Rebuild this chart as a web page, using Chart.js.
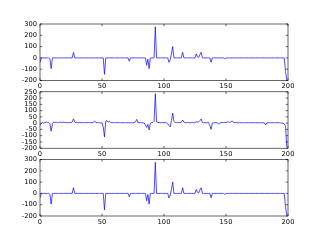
<!DOCTYPE html>
<html>
<head>
<meta charset="utf-8">
<script src="https://cdn.jsdelivr.net/npm/chart.js@4"></script>
<style>
  html, body { margin: 0; padding: 0; background: #fff; }
  #wrap { position: relative; width: 320px; height: 240px; }
  #wrap canvas { position: absolute; left: 0; top: 0; }
</style>
</head>
<body>
<div id="wrap">
  <canvas id="c1" width="320" height="240"></canvas>
  <canvas id="c2" width="320" height="240"></canvas>
  <canvas id="c3" width="320" height="240"></canvas>
</div>
<script>
// ---- data (sample index 0..199) ----
const xTicks = [0, 50, 100, 150, 200];
const yTicksTop = [-200, -100, 0, 100, 200, 300];
const yTicksMid = [-200, -150, -100, -50, 0, 50, 100, 150, 200, 250];

// raw signal (top panel)
const rawSignal = [
  -40, 0, 0, 0, 0, 0, 0, 0, -10, -95, 0, 0, 0, 0, 0, 0, 0, 0, 0, 0,
  0, 0, 0, 0, 0, 0, 0, 50, 0, 0, 0, 0, 0, 0, 0, 0, 0, 0, 0, 0,
  0, 0, 0, 0, 0, 0, 0, 0, 0, 0, 0, 0, -145, 0, 0, 0, 0, 0, 0, 0,
  0, 0, 0, 0, 0, 0, 0, 0, 0, 0, 0, 0, -30, 0, 0, 0, 0, 0, 0, 0,
  0, 0, 0, 0, 0, 0, -65, -10, -95, 0, 0, 0, 0, 275, 0, 0, 0, 0, 0, 0,
  0, 0, 0, 0, -40, -15, 35, 100, 0, 0, 0, 0, 0, 0, 0, 50, 0, 0, 0, 0,
  0, 0, 0, 0, 0, 0, 35, 10, 5, 30, 50, 0, 0, 0, 0, 0, 0, 0, -38, 0,
  0, 0, 0, 0, 0, 0, 0, 0, 0, -8, 0, 0, 0, 0, 0, 0, 0, 0, 0, 0,
  0, 0, 0, 0, 0, 0, 0, 0, 0, 0, 0, 0, 0, 0, 0, 0, 0, 0, 0, 0,
  0, 0, 0, 0, 0, 0, 0, 0, 0, 0, 0, 0, 0, 0, 0, 0, 0, 0, -120, -195
];

// noisy / filtered version (middle panel)
const noisySignal = [
  -15, -5, 5, 0, 5, 8, 5, 5, -5, -65, -5, 10, 5, 8, 3, 5, 8, 5, 6, 8,
  5, 4, 6, 3, 5, 4, 10, 35, 8, 3, 4, 3, 5, 4, 3, 5, 4, 3, 4, 5,
  3, 4, 3, 5, 18, 5, 3, 4, 3, 2, 3, -30, -110, 15, 20, 8, 16, 5, 4, 3,
  4, 3, 5, 3, 4, 3, 4, 3, 3, 4, 3, 4, 3, 4, 3, 3, 4, 10, 30, 5,
  3, 4, 3, 3, 2, -15, -34, -10, -55, 0, 5, 5, 15, 235, 10, 4, 5, 3, 4, 5,
  3, 4, 3, -5, -20, -30, 20, 80, 15, 5, 5, 4, 5, 5, 10, 25, 8, 4, 3, 5,
  4, 3, 4, 5, 3, 4, 12, 8, 10, 20, 33, 5, 3, 4, 3, 3, 4, -20, -50, 0,
  3, 4, 3, 3, -8, 0, 5, 5, 4, 5, 5, 8, 12, 5, 10, 18, 5, 3, 4, 3,
  3, 4, 3, 3, 4, 3, 3, 4, 3, 3, 4, 3, 3, 4, 3, 3, 4, 3, 3, 4,
  3, 3, -15, 3, 3, 4, 3, 3, 4, 3, 3, 4, 3, 3, 2, 0, 0, -5, -25, -190
];

// reconstructed signal (bottom panel)
const rebuiltSignal = [
  -40, 0, 0, 0, 0, 0, 0, 0, -10, -95, 0, 0, 0, 0, 0, 0, 0, 0, 0, 0,
  0, 0, 0, 0, 0, 0, 0, 50, 0, 0, 0, 0, 0, 0, 0, 0, 0, 0, 0, 0,
  0, 0, 0, 0, 0, 0, 0, 0, 0, 0, 0, 0, -145, 0, 0, 0, 0, 0, 0, 0,
  0, 0, 0, 0, 0, 0, 0, 0, 0, 0, 0, 0, -30, 0, 0, 0, 0, 0, 0, 0,
  0, 0, 0, 0, 0, 0, -65, -10, -95, 0, 0, 0, 0, 275, 0, 0, 0, 0, 0, 0,
  0, 0, 0, 0, -40, -15, 35, 100, 0, 0, 0, 0, 0, 0, 0, 50, 0, 0, 0, 0,
  0, 0, 0, 0, 0, 0, 35, 10, 5, 30, 50, 0, 0, 0, 0, 0, 0, 0, -38, 0,
  0, 0, 0, 0, 0, 0, 0, 0, 0, -8, 0, 0, 0, 0, 0, 0, 0, 0, 0, 0,
  0, 0, 0, 0, 0, 0, 0, 0, 0, 0, 0, 0, 0, 0, 0, 0, 0, 0, 0, 0,
  0, 0, 0, 0, 0, 0, 0, 0, 0, 0, 0, 0, 0, 0, 0, 0, 0, 0, -120, -195
];

// box + inward ticks, matplotlib classic look
const frame = {
  id: 'frame',
  afterDraw(chart) {
    const { ctx, chartArea: a, scales } = chart;
    const len = 2.2;
    ctx.save();
    ctx.strokeStyle = '#000';
    ctx.lineWidth = 0.6;
    ctx.strokeRect(a.left, a.top, a.right - a.left, a.bottom - a.top);
    ctx.beginPath();
    xTicks.forEach(v => {
      const px = scales.x.getPixelForValue(v);
      ctx.moveTo(px, a.bottom); ctx.lineTo(px, a.bottom - len);
      ctx.moveTo(px, a.top); ctx.lineTo(px, a.top + len);
    });
    scales.y.ticks.forEach(t => {
      const py = scales.y.getPixelForValue(t.value);
      ctx.moveTo(a.left, py); ctx.lineTo(a.left + len, py);
      ctx.moveTo(a.right, py); ctx.lineTo(a.right - len, py);
    });
    ctx.stroke();
    ctx.restore();
  }
};

const tickFont = { family: 'DejaVu Sans', size: 6.7 };

function makePanel(id, values, yTicks, top, bottom) {
  const pts = values.map((v, i) => ({ x: i, y: v }));
  new Chart(document.getElementById(id), {
    type: 'line',
    data: {
      datasets: [{
        data: pts,
        borderColor: '#0000ff',
        borderWidth: 0.7,
        pointRadius: 0,
        tension: 0,
        fill: false
      }]
    },
    options: {
      responsive: false,
      animation: false,
      devicePixelRatio: 1,
      layout: { padding: { left: 0, right: 32, top: top, bottom: 240 - bottom - 12 } },
      plugins: { legend: { display: false }, tooltip: { enabled: false } },
      scales: {
        x: {
          type: 'linear',
          min: xTicks[0],
          max: xTicks[xTicks.length - 1],
          afterBuildTicks: s => { s.ticks = xTicks.map(v => ({ value: v })); },
          afterFit: s => { s.height = 12; },
          grid: { display: false, drawTicks: false, tickLength: 0 },
          border: { display: false },
          ticks: { color: '#000', font: tickFont, padding: 2, maxRotation: 0, autoSkip: false }
        },
        y: {
          min: yTicks[0],
          max: yTicks[yTicks.length - 1],
          afterBuildTicks: s => { s.ticks = yTicks.map(v => ({ value: v })); },
          afterFit: s => { s.width = 40; },
          grid: { display: false, drawTicks: false, tickLength: 0 },
          border: { display: false },
          ticks: { color: '#000', font: tickFont, padding: 3, autoSkip: false }
        }
      }
    },
    plugins: [frame]
  });
}

makePanel('c1', rawSignal, yTicksTop, 24, 80.5);
makePanel('c2', noisySignal, yTicksMid, 91.8, 148.2);
makePanel('c3', rebuiltSignal, yTicksTop, 159.5, 216);
</script>
</body>
</html>
